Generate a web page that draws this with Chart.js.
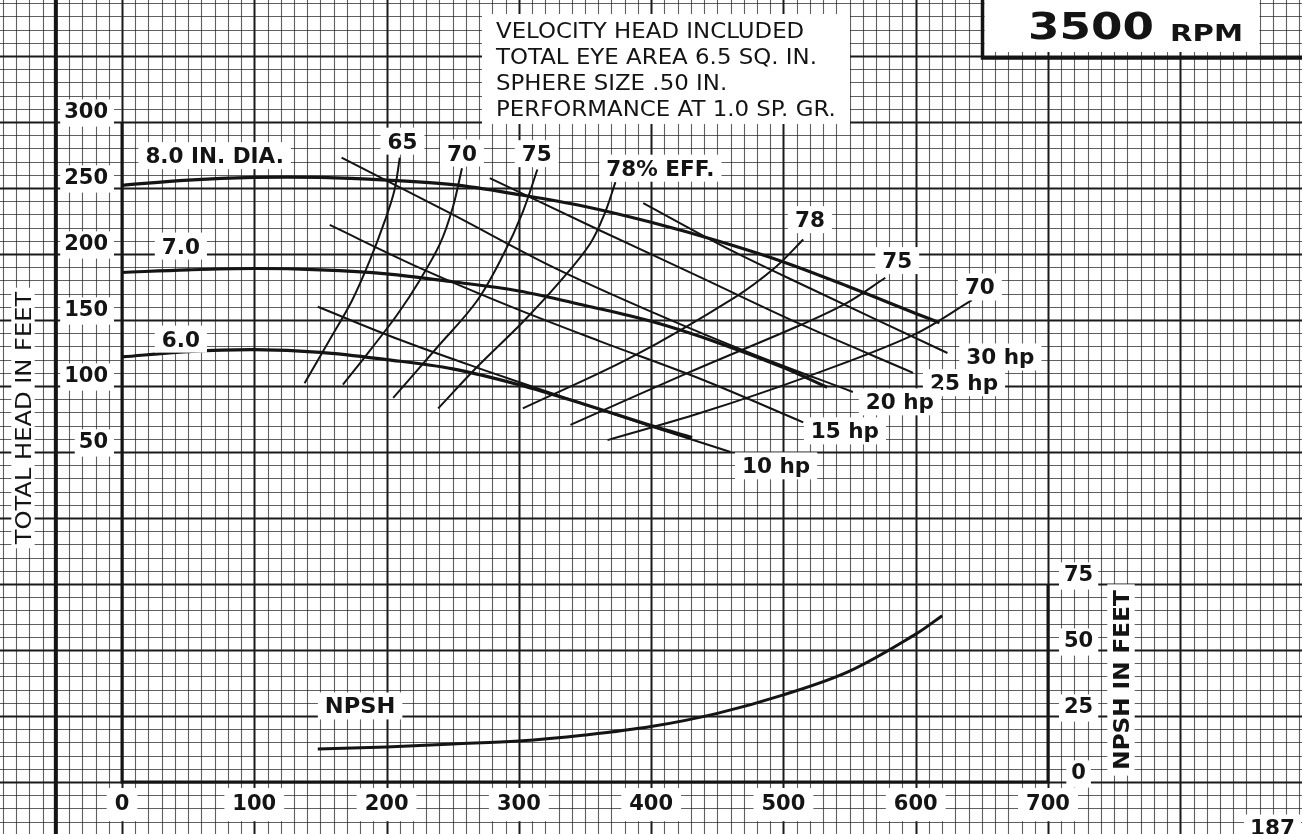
<!DOCTYPE html>
<html>
<head>
<meta charset="utf-8">
<title>3500 RPM pump performance</title>
<script src="https://cdn.jsdelivr.net/npm/chart.js@4.4.1/dist/chart.umd.min.js"></script>
<style>
  html, body { margin: 0; padding: 0; background: #fff; }
  canvas { display: block; }
</style>
</head>
<body>
<canvas id="pump" width="1302" height="834"></canvas>
<script>
// Axis ticks
const flowTicks = [0, 100, 200, 300, 400, 500, 600, 700];
const headTicks = [50, 100, 150, 200, 250, 300];
const npshTicks = [0, 25, 50, 75];

// Impeller diameter curves (gpm / ft)
const dia8Flow = [0, 50, 100, 150, 200, 250, 300, 350, 400, 450, 500, 550, 600, 618];
const dia8Head = [252, 256, 258, 258, 256, 252.5, 245, 236, 224, 210, 194, 175, 155, 148];
const dia7Flow = [0, 50, 100, 150, 200, 250, 300, 350, 400, 450, 500, 533];
const dia7Head = [186, 188, 189, 188, 185, 179, 172, 161, 149, 133, 114, 99];
const dia6Flow = [0, 50, 100, 150, 200, 250, 300, 350, 400, 431];
const dia6Head = [122, 126, 127.5, 125.5, 120, 113, 101, 86, 70, 61];

// Efficiency lines, left branch
const eff65Flow = [138, 157, 174, 187.5, 199, 206, 210];
const eff65Head = [102, 135, 165, 195.5, 226, 248.5, 273];
const eff70Flow = [167, 187.5, 208, 225, 240.5, 250, 257];
const eff70Head = [101, 127, 154, 180, 208, 235, 265];
const eff75Flow = [205, 238, 268, 288, 303, 314];
const eff75Head = [91, 129, 164, 199, 232, 264];
const eff78Flow = [239, 268, 303, 331, 354, 365, 373];
const eff78Head = [83, 114, 148.5, 179, 208, 231, 254.5];

// Efficiency lines, right branch
const eff78bFlow = [303, 385.5, 463, 494, 515];
const eff78bHead = [83, 122, 167, 190, 211];
const eff75bFlow = [339, 429, 512.5, 548, 577];
const eff75bHead = [70.5, 110.5, 146, 163, 182];
const eff70bFlow = [367, 437, 515, 598, 642.5];
const eff70bHead = [59, 79.5, 106, 138.5, 165];

// Horsepower lines
const hp10Flow = [148, 210, 271, 331, 392, 460];
const hp10Head = [160, 135, 113, 92.5, 72, 50];
const hp15Flow = [157, 225, 293, 361, 437, 515];
const hp15Head = [222, 189.5, 160.5, 134, 105.5, 72.5];
const hp20Flow = [166, 248, 327, 403, 478.5, 552.5];
const hp20Head = [273, 231, 189.5, 155, 123.5, 95.5];
const hp25Flow = [278, 361, 437, 512.5, 598];
const hp25Head = [257.5, 218, 182.5, 147, 110];
const hp30Flow = [394, 456, 518, 624];
const hp30Head = [238.5, 205, 175, 125];

// NPSH required (gpm / ft)
const npshFlow = [148, 200, 250, 300, 350, 400, 450, 500, 550, 600, 620];
const npshFeet = [12.5, 13.3, 14.4, 15.5, 17.8, 21, 26, 33, 42, 56, 63];

const INK = '#141414';
const FONT = '"DejaVu Sans", "Liberation Sans", sans-serif';

function series(xs, ys) {
    return xs.map((x, i) => ({ x: x, y: ys[i] }));
}

function line(xs, ys, width, axis) {
    return {
        data: series(xs, ys),
        yAxisID: axis || 'y',
        borderColor: INK,
        borderWidth: width,
        pointRadius: 0,
        showLine: true,
        tension: 0.35,
        fill: false
    };
}

// text with white box, centred on (cx, cy) by cap height
function tag(ctx, text, cx, cy, o) {
    o = o || {};
    const size = o.size || 20.5;
    const sx = o.sx || 1.05;
    ctx.save();
    ctx.font = (o.bold === false ? '' : 'bold ') + size + 'px ' + FONT;
    const w = ctx.measureText(text).width * sx;
    const cap = size * 0.73;
    const padX = o.padX !== undefined ? o.padX : 7;
    const padY = o.padY !== undefined ? o.padY : 6;
    const left = o.align === 'left' ? cx : cx - w / 2;
    if (o.box !== false) {
        ctx.fillStyle = '#fff';
        ctx.fillRect(left - padX, cy - cap / 2 - padY, w + padX * 2, cap + padY * 2);
    }
    ctx.fillStyle = INK;
    ctx.translate(left, cy + cap / 2);
    ctx.scale(sx, 1);
    ctx.textAlign = 'left';
    ctx.textBaseline = 'alphabetic';
    ctx.fillText(text, 0, 0);
    ctx.restore();
}

// graph paper behind everything
const paper = {
    id: 'paper',
    beforeDraw(chart) {
        const { ctx, width, height } = chart;
        const x = chart.scales.x, y = chart.scales.y;
        ctx.save();
        ctx.fillStyle = '#fff';
        ctx.fillRect(0, 0, width, height);
        for (let v = -100; v <= 900; v += 10) {
            const px = Math.round(x.getPixelForValue(v)) + 0.5;
            if (px < -2 || px > width + 2) continue;
            const heavy = v % 100 === 0;
            ctx.strokeStyle = heavy ? '#1a1a1a' : 'rgba(35,35,35,0.72)';
            ctx.lineWidth = heavy ? 2 : 1.1;
            ctx.beginPath();
            ctx.moveTo(px, 0);
            ctx.lineTo(px, height);
            ctx.stroke();
        }
        for (let v = -300; v <= 400; v += 10) {
            const py = Math.round(y.getPixelForValue(v)) + 0.5;
            if (py < -2 || py > height + 2) continue;
            const heavy = v % 50 === 0;
            ctx.strokeStyle = heavy ? '#1a1a1a' : 'rgba(35,35,35,0.72)';
            ctx.lineWidth = heavy ? 2 : 1.1;
            ctx.beginPath();
            ctx.moveTo(0, py);
            ctx.lineTo(width, py);
            ctx.stroke();
        }
        // page rule on the left
        const rule = x.getPixelForValue(-50);
        ctx.strokeStyle = INK;
        ctx.lineWidth = 4;
        ctx.beginPath();
        ctx.moveTo(rule, 0);
        ctx.lineTo(rule, height);
        ctx.stroke();
        ctx.restore();
    }
};

// axis frame
const frame = {
    id: 'frame',
    beforeDatasetsDraw(chart) {
        const { ctx } = chart;
        const x = chart.scales.x, y = chart.scales.y, n = chart.scales.npsh;
        const x0 = x.getPixelForValue(0), x1 = x.getPixelForValue(700);
        const top = y.getPixelForValue(300);
        const base = n.getPixelForValue(0), nTop = n.getPixelForValue(75);
        ctx.save();
        ctx.strokeStyle = INK;
        ctx.lineWidth = 3;
        ctx.lineJoin = 'miter';
        ctx.beginPath();
        ctx.moveTo(x0, top);
        ctx.lineTo(x0, base);
        ctx.lineTo(x1, base);
        ctx.lineTo(x1, nTop);
        ctx.stroke();
        ctx.restore();
    }
};

// Labels on the curves
const curveNotes = [
    ['8.0 IN. DIA.', 70, 274.5], ['7.0', 44.5, 206], ['6.0', 44.5, 135.5],
    ['65', 212, 285.5], ['70', 257, 276.5], ['75', 313.5, 276], ['78% EFF.', 407, 265],
    ['78', 520, 226], ['75', 586, 195], ['70', 648.5, 175],
    ['30 hp', 664, 122], ['25 hp', 636.5, 102.5], ['20 hp', 588, 88],
    ['15 hp', 546.5, 66], ['10 hp', 494.5, 39.5]
];
const infoLines = [
    'VELOCITY HEAD INCLUDED',
    'TOTAL EYE AREA 6.5 SQ. IN.',
    'SPHERE SIZE .50 IN.',
    'PERFORMANCE AT 1.0 SP. GR.'
];

const notes = {
    id: 'notes',
    afterDatasetsDraw(chart) {
        const { ctx, width } = chart;
        const x = chart.scales.x, y = chart.scales.y, n = chart.scales.npsh;

        curveNotes.forEach(([t, fx, fy]) => tag(ctx, t, x.getPixelForValue(fx), y.getPixelForValue(fy)));
        tag(ctx, 'NPSH', x.getPixelForValue(180), n.getPixelForValue(28.8), { sx: 1.1 });

        // info block
        ctx.save();
        ctx.fillStyle = '#fff';
        ctx.fillRect(482, 14, 368, 110);
        ctx.restore();
        infoLines.forEach((t, i) => tag(ctx, t, 496, 30.5 + i * 25.8, { bold: false, size: 21, sx: 1.09, box: false, align: 'left' }));

        // speed box
        const bx = x.getPixelForValue(650.5), by = y.getPixelForValue(348.5);
        ctx.save();
        ctx.fillStyle = '#fff';
        ctx.fillRect(bx + 2, 0, 275, by - 6);
        ctx.strokeStyle = INK;
        ctx.lineWidth = 3.5;
        ctx.beginPath();
        ctx.moveTo(bx, 0);
        ctx.lineTo(bx, by);
        ctx.lineTo(width, by);
        ctx.stroke();
        ctx.restore();
        tag(ctx, '3500', 1028, 25, { size: 38, sx: 1.19, box: false, align: 'left' });
        tag(ctx, 'RPM', 1170, 33, { size: 23, sx: 1.27, box: false, align: 'left' });

        // axis titles
        ctx.save();
        ctx.translate(23, 418);
        ctx.rotate(-Math.PI / 2);
        tag(ctx, 'TOTAL HEAD IN FEET', 0, 0, { bold: false, size: 21, sx: 1.15, padX: 4, padY: 4 });
        ctx.restore();
        ctx.save();
        ctx.translate(1121, 680);
        ctx.rotate(-Math.PI / 2);
        tag(ctx, 'NPSH IN FEET', 0, 0, { size: 21, sx: 1.1, padX: 6, padY: 6 });
        ctx.restore();

        tag(ctx, '187', 1250, 828, { align: 'left', padX: 6, padY: 6 });
    }
};

const tickFont = { family: FONT, size: 21, weight: 'bold' };

new Chart(document.getElementById('pump'), {
    type: 'scatter',
    data: {
        datasets: [
            line(dia8Flow, dia8Head, 3.2),
            line(dia7Flow, dia7Head, 3.2),
            line(dia6Flow, dia6Head, 3.2),
            line(eff65Flow, eff65Head, 2),
            line(eff70Flow, eff70Head, 2),
            line(eff75Flow, eff75Head, 2),
            line(eff78Flow, eff78Head, 2),
            line(eff78bFlow, eff78bHead, 2),
            line(eff75bFlow, eff75bHead, 2),
            line(eff70bFlow, eff70bHead, 2),
            line(hp10Flow, hp10Head, 2),
            line(hp15Flow, hp15Head, 2),
            line(hp20Flow, hp20Head, 2),
            line(hp25Flow, hp25Head, 2),
            line(hp30Flow, hp30Head, 2),
            line(npshFlow, npshFeet, 3, 'npsh')
        ]
    },
    options: {
        responsive: false,
        animation: false,
        devicePixelRatio: 1,
        layout: { padding: { top: 122, left: 0, right: 0, bottom: 0 } },
        plugins: { legend: { display: false }, tooltip: { enabled: false } },
        scales: {
            x: {
                type: 'linear', min: 0, max: 700, position: 'bottom',
                afterBuildTicks: s => { s.ticks = flowTicks.map(v => ({ value: v })); },
                afterFit: s => { s.height = 52; },
                grid: { display: false }, border: { display: false },
                ticks: {
                    color: INK, font: tickFont, padding: 2, maxRotation: 0, autoSkip: false,
                    showLabelBackdrop: true, backdropColor: '#fff', backdropPadding: { x: 8, y: 4 }
                }
            },
            y: {
                type: 'linear', min: -200, max: 300, position: 'left',
                afterBuildTicks: s => { s.ticks = headTicks.map(v => ({ value: v })); },
                afterFit: s => { s.width = 122; },
                grid: { display: false }, border: { display: false },
                ticks: {
                    color: INK, font: tickFont, padding: 6, labelOffset: -9, autoSkip: false,
                    showLabelBackdrop: true, backdropColor: '#fff',
                    backdropPadding: { left: 4, right: 6, top: 1, bottom: 1 }
                }
            },
            npsh: {
                type: 'linear', min: 0, max: 250, position: 'right',
                afterBuildTicks: s => { s.ticks = npshTicks.map(v => ({ value: v })); },
                afterFit: s => { s.width = 254; },
                grid: { display: false }, border: { display: false },
                ticks: {
                    color: INK, font: tickFont, padding: 8, labelOffset: -8, crossAlign: 'center', autoSkip: false,
                    showLabelBackdrop: true, backdropColor: '#fff',
                    backdropPadding: { left: 5, right: 5, top: 1, bottom: 1 }
                }
            }
        }
    },
    plugins: [paper, frame, notes]
});
</script>
</body>
</html>
